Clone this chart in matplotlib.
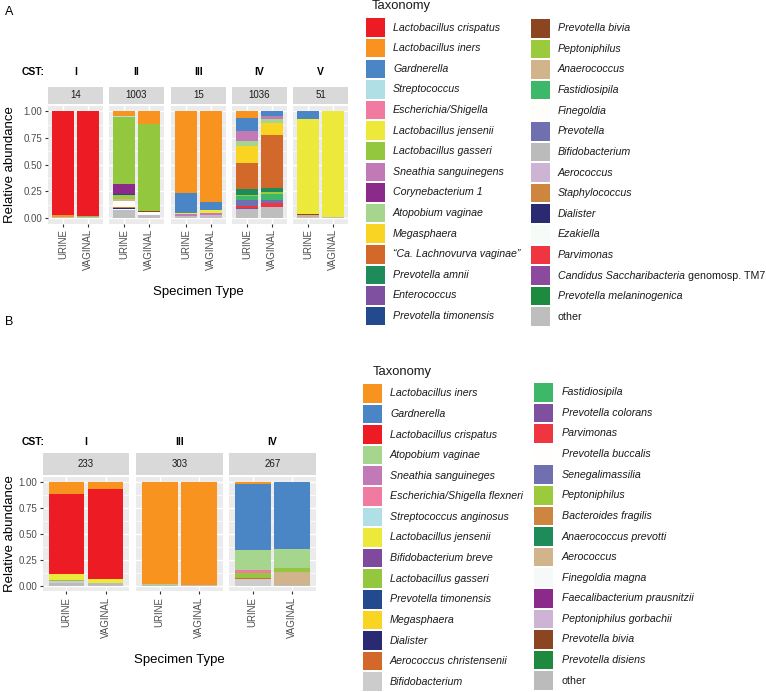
import matplotlib
matplotlib.use("Agg")
import matplotlib.pyplot as plt
from matplotlib.patches import Rectangle

plt.rcParams['font.family'] = ['Liberation Sans', 'DejaVu Sans']

W, H = 766, 692

# ---------------- panel A data ----------------
A_TAXA = ["Lactobacillus crispatus", "Lactobacillus iners", "Gardnerella", "Streptococcus",
          "Escherichia/Shigella", "Lactobacillus jensenii", "Lactobacillus gasseri",
          "Sneathia sanguinegens", "Corynebacterium 1", "Atopobium vaginae", "Megasphaera",
          "\u201cCa. Lachnovurva vaginae\u201d", "Prevotella amnii", "Enterococcus",
          "Prevotella timonensis", "Prevotella bivia", "Peptoniphilus", "Anaerococcus",
          "Fastidiosipila", "Finegoldia", "Prevotella", "Bifidobacterium", "Aerococcus",
          "Staphylococcus", "Dialister", "Ezakiella", "Parvimonas",
          "Candidus Saccharibacteria genomosp. TM7", "Prevotella melaninogenica", "other"]
A_COLORS = ["#ED1C24", "#F7931E", "#4A86C5", "#B0E0E6", "#F07AA0", "#EDE93A", "#93C83E",
            "#C17AB5", "#8B2A8B", "#A6D68E", "#F9D423", "#D2692A", "#1E8B5A", "#7F50A0",
            "#234A8F", "#8B4520", "#9BCB3C", "#D2B48C", "#3CB868", "#FFFDF9", "#7070B0",
            "#BBBBBB", "#CDB4D4", "#CD853F", "#2A2A72", "#F7FBF7", "#EE3540", "#8B4A9E",
            "#1E8A40", "#BEBEBE"]
A_CST = ["I", "II", "III", "IV", "V"]
A_N = [14, 1003, 15, 1036, 51]
A_URINE = [
    {"Lactobacillus crispatus": 0.975, "Lactobacillus iners": 0.012,
     "Lactobacillus jensenii": 0.005, "other": 0.008},
    {"Lactobacillus iners": 0.045, "Streptococcus": 0.008, "Lactobacillus gasseri": 0.627,
     "Corynebacterium 1": 0.095, "Prevotella timonensis": 0.01, "Peptoniphilus": 0.04,
     "Anaerococcus": 0.01, "Finegoldia": 0.065, "Staphylococcus": 0.005, "Dialister": 0.01,
     "Ezakiella": 0.01, "other": 0.075},
    {"Lactobacillus iners": 0.76, "Gardnerella": 0.19, "Lactobacillus jensenii": 0.015,
     "Sneathia sanguinegens": 0.012, "other": 0.023},
    {"Lactobacillus iners": 0.06, "Gardnerella": 0.12, "Sneathia sanguinegens": 0.10,
     "Atopobium vaginae": 0.044, "Megasphaera": 0.16, "\u201cCa. Lachnovurva vaginae\u201d": 0.243,
     "Prevotella amnii": 0.057, "Peptoniphilus": 0.012, "Fastidiosipila": 0.03,
     "Prevotella": 0.06, "Parvimonas": 0.02, "Candidus Saccharibacteria genomosp. TM7": 0.012,
     "other": 0.082},
    {"Gardnerella": 0.075, "Lactobacillus jensenii": 0.89, "Prevotella bivia": 0.01,
     "Anaerococcus": 0.01, "other": 0.015},
]
A_VAGINAL = [
    {"Lactobacillus crispatus": 0.978, "Lactobacillus jensenii": 0.006,
     "Lactobacillus gasseri": 0.006, "other": 0.01},
    {"Lactobacillus iners": 0.12, "Lactobacillus gasseri": 0.817, "Prevotella bivia": 0.008,
     "Finegoldia": 0.025, "Aerococcus": 0.01, "other": 0.02},
    {"Lactobacillus iners": 0.85, "Gardnerella": 0.075, "Lactobacillus jensenii": 0.03,
     "Sneathia sanguinegens": 0.012, "Aerococcus": 0.01, "other": 0.023},
    {"Gardnerella": 0.04, "Sneathia sanguinegens": 0.03, "Atopobium vaginae": 0.037,
     "Megasphaera": 0.11, "\u201cCa. Lachnovurva vaginae\u201d": 0.497, "Prevotella amnii": 0.041,
     "Peptoniphilus": 0.019, "Fastidiosipila": 0.059, "Prevotella": 0.023,
     "Parvimonas": 0.04, "other": 0.104},
    {"Lactobacillus jensenii": 0.992, "other": 0.008},
]

# ---------------- panel B data ----------------
B_TAXA = ["Lactobacillus iners", "Gardnerella", "Lactobacillus crispatus", "Atopobium vaginae",
          "Sneathia sanguineges", "Escherichia/Shigella flexneri", "Streptococcus anginosus",
          "Lactobacillus jensenii", "Bifidobacterium breve", "Lactobacillus gasseri",
          "Prevotella timonensis", "Megasphaera", "Dialister", "Aerococcus christensenii",
          "Bifidobacterium", "Fastidiosipila", "Prevotella colorans", "Parvimonas",
          "Prevotella buccalis", "Senegalimassilia", "Peptoniphilus", "Bacteroides fragilis",
          "Anaerococcus prevotti", "Aerococcus", "Finegoldia magna",
          "Faecalibacterium prausnitzii", "Peptoniphilus gorbachii", "Prevotella bivia",
          "Prevotella disiens", "other"]
B_COLORS = ["#F7931E", "#4A86C5", "#ED1C24", "#A6D68E", "#C17AB5", "#F07AA0", "#B0E0E6",
            "#EDE93A", "#7F4A9E", "#93C83E", "#234A8F", "#F9D423", "#2A2A72", "#D2692A",
            "#CCCCCC", "#3CB868", "#7F50A0", "#EE3540", "#FFFEFC", "#7070B0", "#9BCB3C",
            "#CD853F", "#1E8B5A", "#D2B48C", "#F5FAF8", "#8B2A8B", "#CDB4D4", "#8B4520",
            "#1E8A40", "#BBBBBB"]
B_CST = ["I", "III", "IV"]
B_N = [233, 303, 267]
B_URINE = [
    {"Lactobacillus iners": 0.115, "Lactobacillus crispatus": 0.77,
     "Lactobacillus jensenii": 0.057, "Lactobacillus gasseri": 0.013,
     "Bifidobacterium": 0.015, "other": 0.03},
    {"Lactobacillus iners": 0.978, "Atopobium vaginae": 0.014, "other": 0.008},
    {"Lactobacillus iners": 0.02, "Gardnerella": 0.634, "Atopobium vaginae": 0.192,
     "Escherichia/Shigella flexneri": 0.032, "Lactobacillus gasseri": 0.048,
     "Aerococcus christensenii": 0.007, "Bifidobacterium": 0.067},
]
B_VAGINAL = [
    {"Lactobacillus iners": 0.065, "Lactobacillus crispatus": 0.865,
     "Lactobacillus jensenii": 0.038, "other": 0.032},
    {"Lactobacillus iners": 0.99, "Lactobacillus gasseri": 0.006, "other": 0.004},
    {"Gardnerella": 0.647, "Atopobium vaginae": 0.183, "Lactobacillus gasseri": 0.032,
     "Dialister": 0.008, "Aerococcus": 0.12, "other": 0.01},
]

SPECIMENS = ["URINE", "VAGINAL"]
YTICKS = [0, 0.25, 0.5, 0.75, 1.0]

fig = plt.figure(figsize=(W / 100, H / 100), dpi=100)


def px_axes(x0, y0, x1, y1):
    return fig.add_axes([x0 / W, 1 - y1 / H, (x1 - x0) / W, (y1 - y0) / H])


def draw_panel(facet_x, strip_y, panel_y, cst_y, csts, ns, urine, vaginal, taxa, colors,
               xlabel_y, ylabel_y):
    cmap = dict(zip(taxa, colors))
    for i, (x0, x1) in enumerate(facet_x):
        ax = px_axes(x0, panel_y[0], x1, panel_y[1])
        ax.set_facecolor('#EBEBEB')
        ax.set_xlim(0.4, 2.6)
        ax.set_ylim(-0.05, 1.05)
        for y in YTICKS:
            ax.axhline(y, color='white', lw=1.0, zorder=0.5)
        for y in [0.125, 0.375, 0.625, 0.875]:
            ax.axhline(y, color='white', lw=0.5, zorder=0.5)
        for x in [1, 2]:
            ax.axvline(x, color='white', lw=1.0, zorder=0.5)
        for j, d in enumerate([urine[i], vaginal[i]]):
            total = sum(d.values())
            bottom = 0
            for t in reversed(taxa):
                v = d.get(t, 0) / total
                if v > 0:
                    ax.bar(j + 1, v, bottom=bottom, width=0.9, color=cmap[t], linewidth=0,
                           zorder=2)
                    bottom += v
        for s in ax.spines.values():
            s.set_visible(False)
        ax.set_xticks([1, 2], SPECIMENS, rotation=90, fontsize=7, color='#4D4D4D')
        ax.tick_params(axis='x', length=2.5, width=0.8, color='#333333', pad=1.5)
        ax.set_yticks(YTICKS, ["0.00", "0.25", "0.50", "0.75", "1.00"], fontsize=7,
                      color='#4D4D4D')
        if i == 0:
            ax.tick_params(axis='y', length=2.5, width=0.8, color='#333333', pad=1.5)
        else:
            ax.tick_params(axis='y', left=False, labelleft=False)
        # strip
        sax = px_axes(x0, strip_y[0], x1, strip_y[1])
        sax.set_facecolor('#D9D9D9')
        sax.set_xticks([])
        sax.set_yticks([])
        for s in sax.spines.values():
            s.set_visible(False)
        sax.text(0.5, 0.5, str(ns[i]), ha='center', va='center', fontsize=7, color='#1A1A1A',
                 transform=sax.transAxes)
        fig.text((x0 + x1) / 2 / W, 1 - cst_y / H, csts[i], ha='center', va='center',
                 fontsize=7.5, fontweight='bold')
    fig.text(33 / W, 1 - cst_y / H, "CST:", ha='center', va='center', fontsize=7.5,
             fontweight='bold')
    xc = (facet_x[0][0] + facet_x[-1][1]) / 2
    fig.text(xc / W, 1 - xlabel_y / H, "Specimen Type", ha='center', va='center', fontsize=9.5)
    fig.text(10 / W, 1 - ylabel_y / H, "Relative abundance", ha='center', va='center',
             fontsize=9.5, rotation=90)


draw_panel([(48, 103), (109, 164), (171, 226), (232, 287), (293, 348)],
           (87, 104), (106, 223.5), 72, A_CST, A_N, A_URINE, A_VAGINAL, A_TAXA, A_COLORS,
           292, 165)
draw_panel([(43, 129), (136, 223), (229, 316)],
           (453, 475), (477, 591), 442, B_CST, B_N, B_URINE, B_VAGINAL, B_TAXA, B_COLORS,
           660, 534)

fig.text(5 / W, 1 - 12 / H, "A", ha='left', va='center', fontsize=9)
fig.text(5 / W, 1 - 322 / H, "B", ha='left', va='center', fontsize=9)

# legends drawn in a pixel-coordinate overlay
lax = fig.add_axes([0, 0, 1, 1])
lax.set_xlim(0, W)
lax.set_ylim(H, 0)
lax.axis('off')
renderer = fig.canvas.get_renderer()


def draw_legend(title_xy, cols, taxa, colors):
    lax.text(title_xy[0], title_xy[1], "Taxonomy", ha='left', va='center', fontsize=9.4,
             color='#1A1A1A')
    per_col = (len(taxa) + 1) // 2
    for k, (t, c) in enumerate(zip(taxa, colors)):
        kx, lx, y0 = cols[k // per_col]
        ky = y0 + 20.6 * (k % per_col)
        lax.add_patch(Rectangle((kx, ky), 19, 18.6, facecolor=c, edgecolor='none'))
        cy = ky + 9.3
        if t == "other":
            lax.text(lx, cy, t, ha='left', va='center', fontsize=7.7, color='#1A1A1A')
        elif t.endswith("genomosp. TM7"):
            it = lax.text(lx, cy, "Candidus Saccharibacteria", ha='left', va='center',
                          fontsize=7.7, style='italic', color='#1A1A1A')
            bb = it.get_window_extent(renderer)
            lax.text(bb.x1 + 3, cy, "genomosp. TM7", ha='left', va='center', fontsize=7.7,
                     color='#1A1A1A')
        else:
            lax.text(lx, cy, t, ha='left', va='center', fontsize=7.7, style='italic',
                     color='#1A1A1A')


draw_legend((372, 6), [(366, 393, 18.3), (531, 558, 19)], A_TAXA, A_COLORS)
draw_legend((373, 372), [(363.3, 390, 384), (534.3, 562, 383)], B_TAXA, B_COLORS)

fig.savefig("out.png", dpi=100)
